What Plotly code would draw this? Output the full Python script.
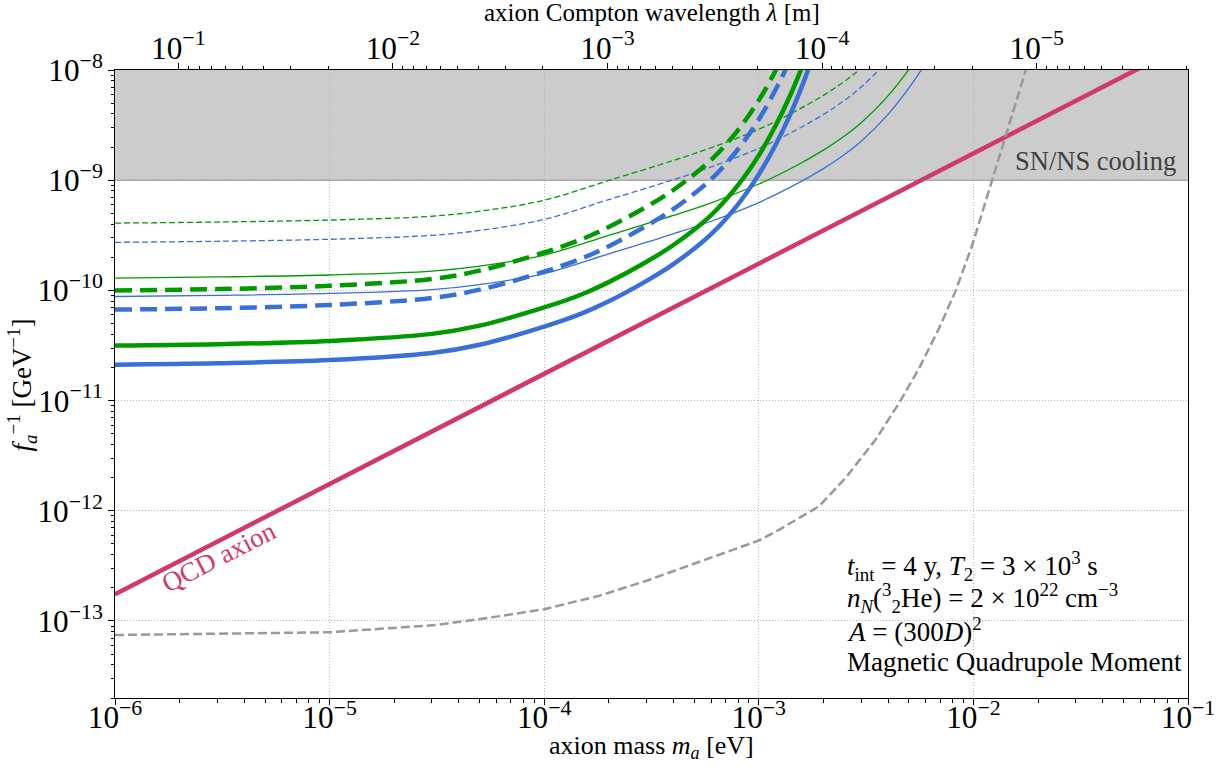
import math
import plotly.graph_objects as go

# ---------------- data ----------------
mass_thick = [1e-6, 3e-6, 1e-5, 3e-5, 5e-5, 1e-4, 1.5e-4, 2e-4, 3e-4, 4e-4,
              6e-4, 8e-4, 1e-3, 1.2e-3, 1.4e-3, 1.6e-3, 1.8e-3]
green_thick_solid = [3.16e-11, 3.25e-11, 3.48e-11, 4.03e-11, 4.79e-11, 7.0e-11, 9.23e-11,
                     1.189e-10, 1.82e-10, 2.58e-10, 4.83e-10, 9.02e-10, 1.68e-9, 3.15e-9,
                     5.87e-9, 1.10e-8, 2.05e-8]
blue_thick_solid = [2.12e-11, 2.18e-11, 2.33e-11, 2.70e-11, 3.21e-11, 4.69e-11, 6.18e-11,
                    7.96e-11, 1.22e-10, 1.73e-10, 3.24e-10, 6.04e-10, 1.13e-9, 2.11e-9,
                    3.93e-9, 7.37e-9, 1.37e-8]
green_thick_dashed = [1.0e-10, 1.027e-10, 1.10e-10, 1.27e-10, 1.51e-10, 2.21e-10, 2.92e-10,
                      3.76e-10, 5.75e-10, 8.15e-10, 1.53e-9, 2.85e-9, 5.31e-9, 9.95e-9,
                      1.85e-8, 3.48e-8, 6.48e-8]
blue_thick_dashed = [6.70e-11, 6.89e-11, 7.38e-11, 8.54e-11, 1.015e-10, 1.48e-10, 1.954e-10,
                     2.52e-10, 3.86e-10, 5.47e-10, 1.02e-9, 1.91e-9, 3.56e-9, 6.68e-9,
                     1.24e-8, 2.33e-8, 4.35e-8]

mass_thin = [1e-6, 3e-6, 1e-5, 3e-5, 5e-5, 1e-4, 2e-4, 4e-4, 6e-4, 1e-3,
             1.5e-3, 2e-3, 2.5e-3, 3e-3, 4e-3, 5e-3, 6e-3]
green_thin_solid = [1.294e-10, 1.324e-10, 1.38e-10, 1.496e-10, 1.66e-10, 2.09e-10, 3.16e-10,
                    4.79e-10, 6.24e-10, 9.23e-10, 1.36e-9, 1.875e-9, 2.506e-9, 3.32e-9,
                    5.83e-9, 1.009e-8, 1.71e-8]
blue_thin_solid = [8.80e-11, 9.0e-11, 9.38e-11, 1.017e-10, 1.129e-10, 1.42e-10, 2.15e-10,
                   3.26e-10, 4.24e-10, 6.27e-10, 9.25e-10, 1.274e-9, 1.702e-9, 2.254e-9,
                   3.96e-9, 6.85e-9, 1.161e-8]
green_thin_dashed = [4.08e-10, 4.17e-10, 4.35e-10, 4.71e-10, 5.23e-10, 6.58e-10, 9.95e-10,
                     1.51e-9, 1.97e-9, 2.90e-9, 4.28e-9, 5.89e-9, 7.87e-9, 1.042e-8,
                     1.83e-8, 3.17e-8, 5.37e-8]
blue_thin_dashed = [2.73e-10, 2.79e-10, 2.91e-10, 3.16e-10, 3.50e-10, 4.41e-10, 6.67e-10,
                    1.01e-9, 1.32e-9, 1.945e-9, 2.87e-9, 3.95e-9, 5.28e-9, 7.0e-9,
                    1.23e-8, 2.13e-8, 3.61e-8]

mass_gray = [1e-6, 1e-5, 3.16e-5, 6.3e-5, 1e-4, 1.8e-4, 3e-4, 5e-4, 1e-3, 1.24e-3, 1.91e-3,
             2.54e-3, 3.51e-3, 4.58e-3, 5.58e-3, 6.92e-3, 8.28e-3, 9.9e-3, 1.13e-2,
             1.26e-2, 1.75e-2, 2.0e-2]
gray_dashed = [7.46e-14, 7.9e-14, 9.2e-14, 1.11e-13, 1.28e-13, 1.69e-13, 2.32e-13, 3.29e-13,
               5.37e-13, 6.7e-13, 1.1e-12, 1.99e-12, 4.45e-12, 1.0e-11, 1.96e-11, 4.53e-11,
               1.0e-10, 2.61e-10, 6.04e-10, 1.22e-9, 1.0e-8, 2.3e-8]

qcd_mass = [1e-6, 1e-1]
qcd_inv_fa = [1.75e-13, 1.75e-8]

sn_band = [1e-9, 1e-8]

HBARC_EV_M = 1.9733e-7  # reduced Compton wavelength: lambda = hbar*c / m
X_RANGE = [1e-6, 1e-1]
Y_RANGE = [2e-14, 1e-8]

# ---------------- styling ----------------
FONT = "Liberation Serif"
GREEN = "#009a00"
BLUE = "#3a6fd6"
PINK = "#d0396b"
GRAY = "#999999"
GRID = "#b4b4b4"

fig = go.Figure()


def add_line(x, y, color, width, dash, shape="spline", xaxis="x", yaxis="y"):
    line = dict(color=color, width=width, dash=dash, shape=shape)
    if shape == "spline":
        line["smoothing"] = 1.0
    fig.add_trace(go.Scatter(x=x, y=y, mode="lines", line=line, xaxis=xaxis, yaxis=yaxis,
                             showlegend=False, hoverinfo="skip"))


lam = lambda masses: [HBARC_EV_M / m for m in masses]

# thin curves (main subplot)
add_line(mass_thin, green_thin_dashed, GREEN, 1.3, "6px,3px")
add_line(mass_thin, blue_thin_dashed, BLUE, 1.3, "6px,3px")
add_line(mass_thin, green_thin_solid, GREEN, 1.3, "solid")
add_line(mass_thin, blue_thin_solid, BLUE, 1.3, "solid")
# QCD axion line, drawn through the top wavelength axis (lambda = hbar c / m)
add_line(lam(qcd_mass), qcd_inv_fa, PINK, 4.5, "solid", shape="linear", xaxis="x2")
# thick curves (x3 = same mass scale, carries the minor ticks)
add_line(mass_thick, green_thick_dashed, GREEN, 4.5, "17px,8px", xaxis="x3")
add_line(mass_thick, blue_thick_dashed, BLUE, 4.5, "17px,8px", xaxis="x3")
add_line(mass_thick, green_thick_solid, GREEN, 4.5, "solid", xaxis="x3")
add_line(mass_thick, blue_thick_solid, BLUE, 4.5, "solid", xaxis="x3")
# gray dashed curve through wavelength axis x4 and minor-tick y axis y2
add_line(lam(mass_gray), gray_dashed, GRAY, 2.5, "9px,4px", shape="linear",
         xaxis="x4", yaxis="y2")

# SN/NS cooling band
fig.add_shape(type="rect", xref="paper", yref="y", x0=0, x1=1,
              y0=sn_band[0], y1=sn_band[1], fillcolor="#cccccc",
              line=dict(width=0), layer="below")
fig.add_shape(type="line", xref="paper", yref="y", x0=0, x1=1,
              y0=sn_band[0], y1=sn_band[0], line=dict(color="#a8a8a8", width=1.5),
              layer="below")

tickfont = dict(family=FONT, size=25, color="black")
major = dict(type="log", tickmode="linear", tick0=0, dtick=1, exponentformat="power",
             ticks="outside", ticklen=6, tickwidth=1.2, tickcolor="black",
             showline=True, linecolor="black", linewidth=1.3, zeroline=False,
             tickfont=tickfont, automargin=False)
minor_style = dict(type="log", tickmode="array", ticks="outside", ticklen=3.5, tickwidth=1,
                   tickcolor="black", showticklabels=False, showgrid=False,
                   showline=False, zeroline=False, automargin=False)

minor_x = [k * 10 ** e for e in range(-6, -1) for k in range(2, 10)]
minor_y = [k * 10 ** e for e in range(-14, -8) for k in range(2, 10)]
minor_lam = [k * 10 ** e for e in range(-6, 0) for k in range(2, 10)]

x_range_log = [math.log10(X_RANGE[0]), math.log10(X_RANGE[1])]
y_range_log = [math.log10(Y_RANGE[0]), math.log10(Y_RANGE[1])]
lam_range_log = [math.log10(HBARC_EV_M / X_RANGE[0]), math.log10(HBARC_EV_M / X_RANGE[1])]

fig.update_layout(
    width=1225, height=768,
    margin=dict(l=115, r=37, t=70, b=70),
    paper_bgcolor="white", plot_bgcolor="white",
    font=dict(family=FONT, size=25, color="black"),
    xaxis=dict(**major, range=x_range_log, mirror=False, showgrid=True, gridcolor=GRID,
               griddash="1px,2px", gridwidth=1, ticklabelstandoff=-13),
    yaxis=dict(**major, range=y_range_log, mirror=True, showgrid=True, gridcolor=GRID,
               griddash="1px,2px", gridwidth=1),
    xaxis2=dict(**major, overlaying="x", side="top", anchor="y", range=lam_range_log,
                showgrid=False, ticklabelstandoff=-7),
    xaxis3=dict(**minor_style, overlaying="x", side="bottom", anchor="y",
                range=x_range_log, tickvals=minor_x),
    xaxis4=dict(**minor_style, overlaying="x", side="top", anchor="y",
                range=lam_range_log, tickvals=minor_lam),
    yaxis2=dict(**minor_style, overlaying="y", side="left", anchor="x",
                range=y_range_log, tickvals=minor_y),
)

# axis titles
fig.add_annotation(xref="paper", yref="paper", x=0.5, y=-0.078, xanchor="center",
                   yanchor="middle", showarrow=False,
                   text="axion mass <i>m<sub>a</sub></i> [eV]",
                   font=dict(family=FONT, size=26))
fig.add_annotation(xref="paper", yref="paper", x=0.5, y=1.092, xanchor="center",
                   yanchor="middle", showarrow=False,
                   text="axion Compton wavelength <i>λ</i> [m]",
                   font=dict(family=FONT, size=25))
fig.add_annotation(xref="paper", yref="paper", x=-0.0865, y=0.498, xanchor="center",
                   yanchor="middle", showarrow=False, textangle=-90,
                   text="<i>f<sub>a</sub></i><sup>−1</sup> [GeV<sup>−1</sup>]",
                   font=dict(family=FONT, size=27))

# annotations
fig.add_annotation(xref="paper", yref="paper", x=0.991, y=0.855, xanchor="right",
                   yanchor="middle", showarrow=False, text="SN/NS cooling",
                   font=dict(family=FONT, size=26.5, color="#404040"))
fig.add_annotation(xref="paper", yref="paper", x=0.0965, y=0.224, xanchor="center",
                   yanchor="middle", showarrow=False, text="QCD axion", textangle=-27,
                   font=dict(family=FONT, size=27, color=PINK))
info_lines = [
    "<i>t</i><sub>int</sub> = 4 y, <i>T</i><sub>2</sub> = 3 × 10<sup>3</sup> s",
    "<i>n<sub>N</sub></i>(<sup>3</sup><sub>2</sub>He) = 2 × 10<sup>22</sup> cm<sup>−3</sup>",
    "<i>A</i> = (300<i>D</i>)<sup>2</sup>",
    "Magnetic Quadrupole Moment",
]
for i, line in enumerate(info_lines):
    fig.add_annotation(xref="paper", yref="paper", x=0.6803, y=0.2102 - i * 0.051,
                       xanchor="left", yanchor="middle", showarrow=False, text=line,
                       font=dict(family=FONT, size=27, color="black"))

fig.write_html("out.html")
